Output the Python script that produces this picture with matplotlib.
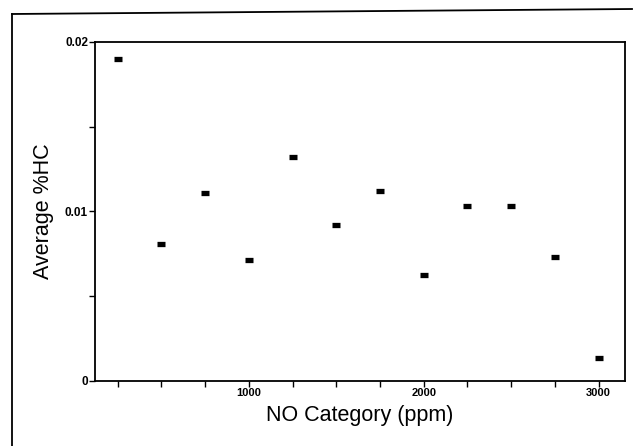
import matplotlib.pyplot as plt
from matplotlib.lines import Line2D
from matplotlib.ticker import MultipleLocator

# data
no_category = [250, 500, 750, 1000, 1250, 1500, 1750, 2000, 2250, 2500, 2750, 3000]
avg_hc = [0.0190, 0.0081, 0.0111, 0.00714, 0.0132, 0.0092, 0.0112,
          0.00625, 0.0103, 0.0103, 0.0073, 0.00136]

x_ticks = [1000, 2000, 3000]
y_ticks = [0, 0.01, 0.02]
y_tick_labels = ["0", "0.01", "0.02"]

plt.rcParams["font.family"] = ["Liberation Sans", "DejaVu Sans"]

fig = plt.figure(figsize=(6.33, 4.46), dpi=100)
ax = fig.add_axes([0.150, 0.146, 0.837, 0.760])

# outer frame of the scanned page
frame_kw = dict(color="black", linewidth=1.3, transform=fig.transFigure)
fig.add_artist(Line2D([12 / 633, 12 / 633], [0, 1 - 14 / 446], **frame_kw))
fig.add_artist(Line2D([12 / 633, 632 / 633], [1 - 14 / 446, 1 - 9 / 446], **frame_kw))

ax.plot(no_category, avg_hc, linestyle="none", marker="_",
        markersize=6, markeredgewidth=3.8, color="black")

ax.set_xlim(120, 3150)
ax.set_ylim(0, 0.02)

ax.set_xticks(x_ticks)
ax.set_xticklabels([str(t) for t in x_ticks])
ax.xaxis.set_minor_locator(MultipleLocator(250))
ax.set_yticks(y_ticks)
ax.set_yticklabels(y_tick_labels)
ax.yaxis.set_minor_locator(MultipleLocator(0.005))

ax.tick_params(which="both", direction="out", length=4, width=1)
ax.tick_params(axis="x", pad=1, labelsize=8)
ax.tick_params(axis="y", pad=1, labelsize=8.5)
for lbl in ax.get_xticklabels() + ax.get_yticklabels():
    lbl.set_fontweight("bold")

for side in ["left", "bottom", "top", "right"]:
    ax.spines[side].set_linewidth(1.3)

ax.set_xlabel("NO Category (ppm)", fontsize=15.5, labelpad=5)
ax.set_ylabel("Average %HC", fontsize=15.5, labelpad=8)

fig.savefig("out.png", dpi=100)
